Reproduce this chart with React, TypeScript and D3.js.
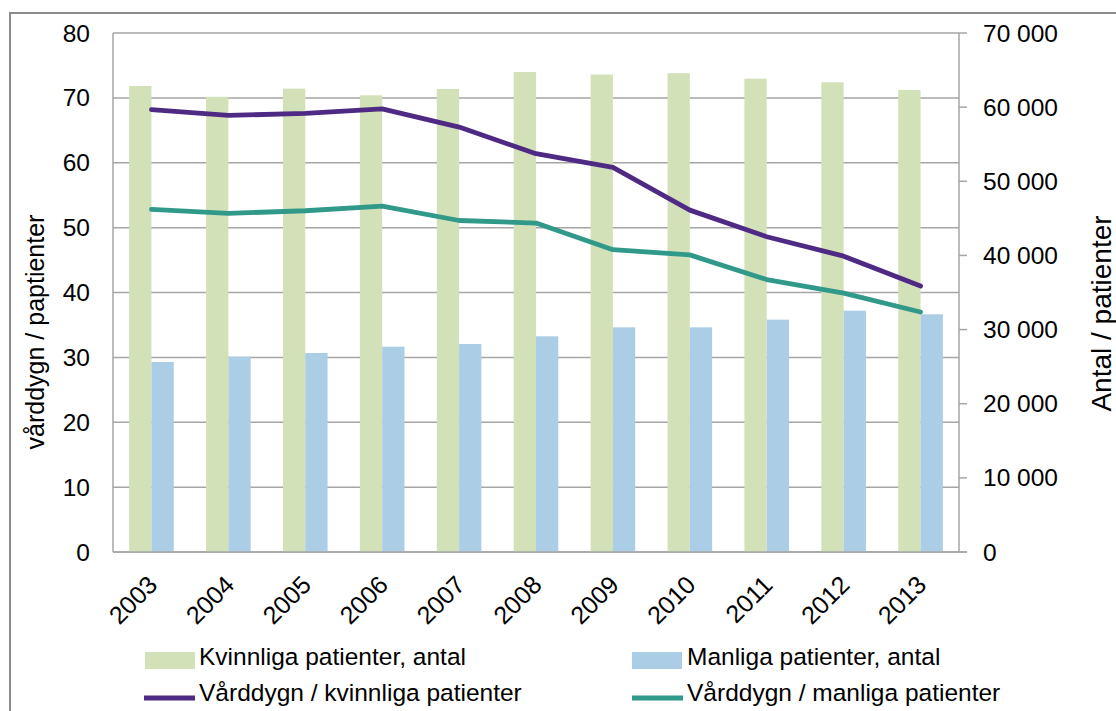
import React from "react";
import * as d3 from "d3";

const years = ["2003", "2004", "2005", "2006", "2007", "2008", "2009", "2010", "2011", "2012", "2013"];
const kvinnligaAntal = [62850, 61400, 62500, 61600, 62450, 64740, 64400, 64580, 63840, 63350, 62310];
const manligaAntal = [25630, 26340, 26840, 27690, 28060, 29090, 30300, 30300, 31340, 32550, 32060];
const vardKvinnliga = [68.2, 67.3, 67.6, 68.3, 65.5, 61.4, 59.3, 52.7, 48.6, 45.6, 41.0];
const vardManliga = [52.8, 52.2, 52.6, 53.3, 51.1, 50.7, 46.6, 45.8, 42.0, 39.9, 37.0];
const leftTicks = [0, 10, 20, 30, 40, 50, 60, 70, 80];
const rightTicks = [0, 10000, 20000, 30000, 40000, 50000, 60000, 70000];

const W = 1116;
const H = 711;
const L = 113;
const R = 959;
const T = 33;
const B = 552;

const GREEN = "#D3E1B9";
const BLUE = "#ABCDE5";
const PURPLE = "#4F2A84";
const TEAL = "#31998A";
const GRID = "#A6A6A6";
const FONT = "'Liberation Sans', Arial, sans-serif";

const fmt = (v: number) => (v >= 1000 ? `${Math.floor(v / 1000)} ${String(v % 1000).padStart(3, "0")}` : String(v));

export default function App() {
  const x0 = d3.scaleBand<string>().domain(years).range([L, R]).paddingInner(0.42).paddingOuter(0.21);
  const bw = x0.bandwidth();
  const x1 = d3.scaleBand<string>().domain(["k", "m"]).range([0, bw]);
  const yL = d3.scaleLinear().domain([0, 80]).range([B, T]);
  const yR = d3.scaleLinear().domain([0, 70000]).range([B, T]);
  const cx = (y: string) => (x0(y) as number) + bw / 2;

  const lineK = d3.line<number>().x((_, i) => cx(years[i])).y((v) => yL(v));
  const lineM = d3.line<number>().x((_, i) => cx(years[i])).y((v) => yL(v));

  return (
    <svg width={W} height={H} style={{ position: "absolute", left: 0, top: 0, background: "#fff" }} fontFamily={FONT}>
      <rect x={0} y={0} width={W} height={H} fill="#fff" />
      {/* outer frame */}
      <path d={`M10,${H + 5} L10,13 L${W + 5},13`} fill="none" stroke="#8C8C8C" strokeWidth={2} />

      {/* gridlines */}
      {leftTicks.map((t) => (
        <line key={t} x1={L} x2={R} y1={yL(t)} y2={yL(t)} stroke={GRID} strokeWidth={1.5} />
      ))}

      {/* bars */}
      {years.map((y, i) => (
        <g key={y}>
          <rect x={(x0(y) as number) + (x1("k") as number)} y={yR(kvinnligaAntal[i])} width={x1.bandwidth()} height={B - yR(kvinnligaAntal[i])} fill={GREEN} />
          <rect x={(x0(y) as number) + (x1("m") as number)} y={yR(manligaAntal[i])} width={x1.bandwidth()} height={B - yR(manligaAntal[i])} fill={BLUE} />
        </g>
      ))}

      {/* axes */}
      <line x1={L} x2={L} y1={T} y2={B} stroke={GRID} strokeWidth={1.5} />
      <line x1={R} x2={R} y1={T} y2={B} stroke={GRID} strokeWidth={1.5} />
      <line x1={L} x2={R + 8} y1={B} y2={B} stroke={GRID} strokeWidth={1.5} />
      {rightTicks.map((t) => (
        <line key={t} x1={R} x2={R + 8} y1={yR(t)} y2={yR(t)} stroke={GRID} strokeWidth={1.5} />
      ))}

      {/* lines */}
      <path d={lineK(vardKvinnliga) as string} fill="none" stroke={PURPLE} strokeWidth={4.8} strokeLinejoin="round" strokeLinecap="round" />
      <path d={lineM(vardManliga) as string} fill="none" stroke={TEAL} strokeWidth={4.8} strokeLinejoin="round" strokeLinecap="round" />

      {/* left tick labels */}
      {leftTicks.map((t) => (
        <text key={t} x={90} y={yL(t)} dy="0.35em" textAnchor="end" fontSize={24.5} fill="#000">
          {t}
        </text>
      ))}
      {/* right tick labels */}
      {rightTicks.map((t) => (
        <text key={t} x={983} y={yR(t)} dy="0.35em" textAnchor="start" fontSize={24.5} fill="#000">
          {fmt(t)}
        </text>
      ))}

      {/* year labels */}
      {years.map((y) => (
        <text key={y} transform={`translate(${cx(y) - 5},${B + 22}) rotate(-45)`} textAnchor="end" dy="0.7em" fontSize={25} fill="#000">
          {y}
        </text>
      ))}

      {/* axis titles */}
      <text transform={`translate(44,${(211 + 453) / 2}) rotate(-90)`} textAnchor="middle" fontSize={25} fill="#000">
        vårddygn / paptienter
      </text>
      <text transform={`translate(1111,${(207 + 420) / 2}) rotate(-90)`} textAnchor="middle" fontSize={28} fill="#000">
        Antal / patienter
      </text>

      {/* legend */}
      <rect x={145} y={652} width={50} height={17} fill={GREEN} />
      <text x={199} y={665} fontSize={24.5} fill="#000">Kvinnliga patienter, antal</text>
      <rect x={632} y={652} width={50} height={17} fill={BLUE} />
      <text x={687} y={665} fontSize={24.5} fill="#000">Manliga patienter, antal</text>
      <line x1={144} x2={195} y1={698} y2={698} stroke={PURPLE} strokeWidth={4.8} />
      <text x={199} y={701} fontSize={24.5} fill="#000">Vårddygn / kvinnliga patienter</text>
      <line x1={632} x2={683} y1={698} y2={698} stroke={TEAL} strokeWidth={4.8} />
      <text x={687} y={701} fontSize={24.5} fill="#000">Vårddygn / manliga patienter</text>
    </svg>
  );
}
